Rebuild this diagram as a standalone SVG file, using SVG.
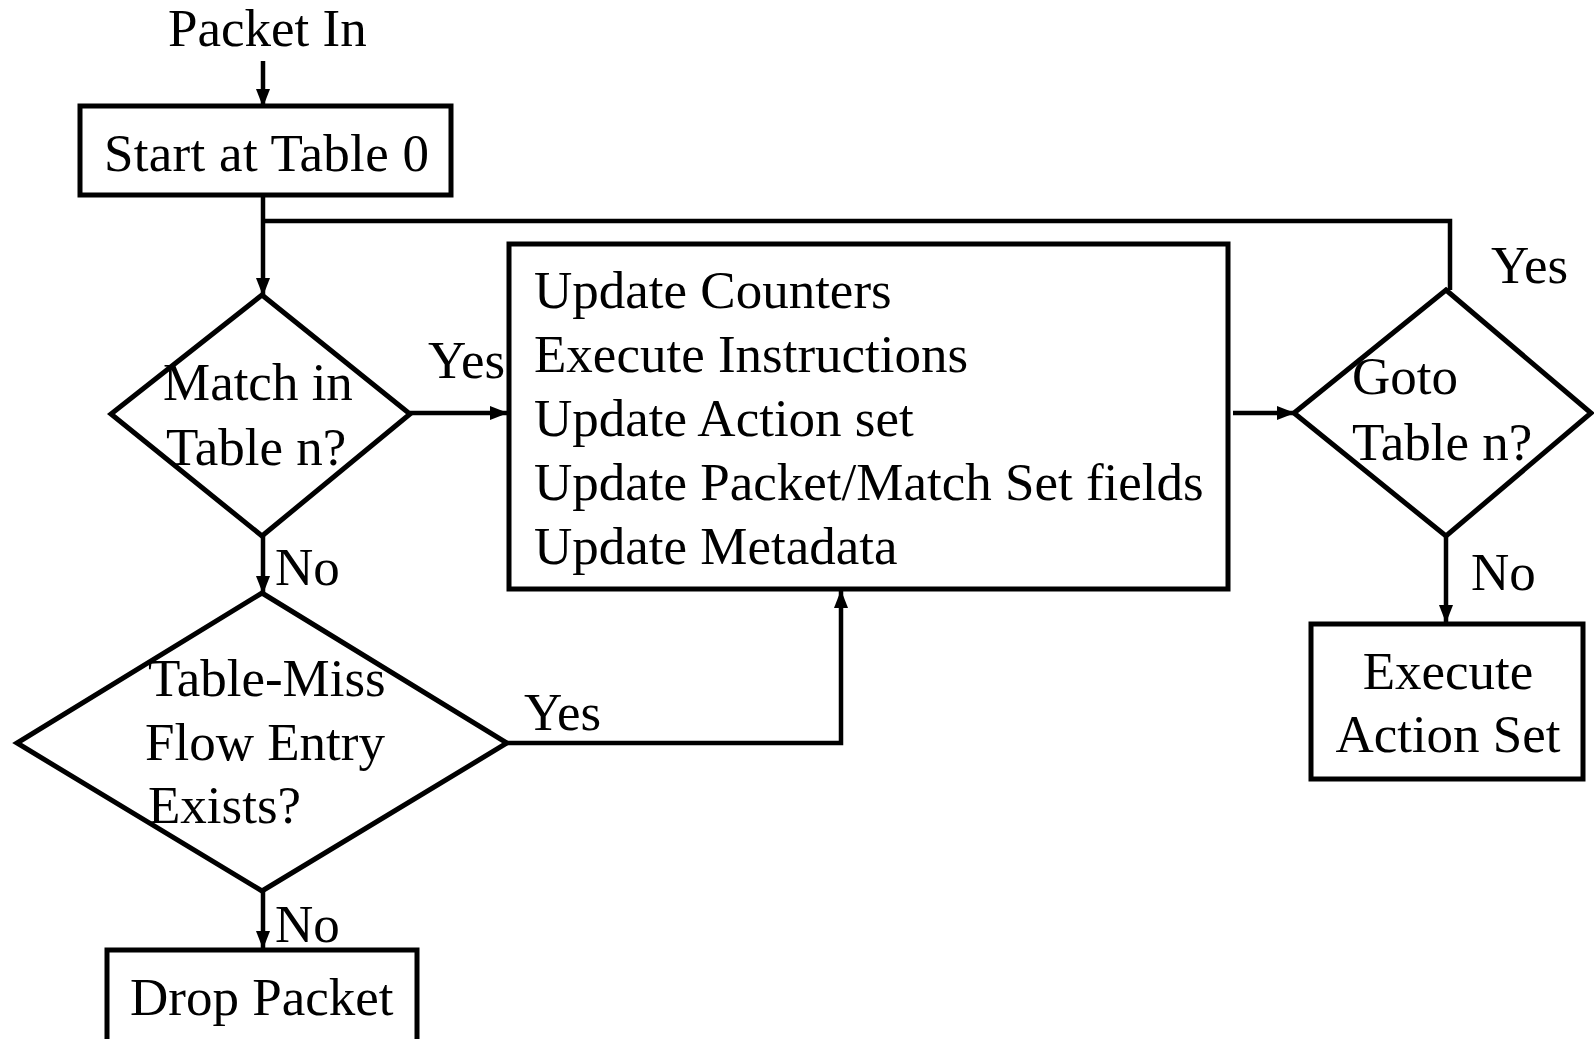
<svg xmlns="http://www.w3.org/2000/svg" width="1594" height="1039" viewBox="0 0 1594 1039">
<defs>
<marker id="ah" markerUnits="userSpaceOnUse" markerWidth="18" markerHeight="16" viewBox="0 0 18 16" refX="17" refY="8" orient="auto">
<path d="M0,1 L18,8 L0,15 Z" fill="#000"/>
</marker>
</defs>
<style>
text{font-family:"Liberation Serif","Times New Roman",serif;font-size:53px;fill:#000}
.box{fill:#fff;stroke:#000;stroke-width:5}
.c{fill:none;stroke:#000;stroke-width:4.5}
.a{marker-end:url(#ah)}
</style>
<rect width="1594" height="1039" fill="#fff"/>
<g id="connectors">
<line class="c a" x1="263" y1="61" x2="263" y2="106"/>
<polyline class="c a" points="263,195 263,295"/>
<polyline class="c" points="263,221 1450,221 1450,290"/>
<line class="c a" x1="410" y1="413" x2="507" y2="413"/>
<line class="c a" x1="1233" y1="413" x2="1294" y2="413"/>
<line class="c a" x1="1446" y1="536" x2="1446" y2="622"/>
<line class="c a" x1="263" y1="536" x2="263" y2="593"/>
<polyline class="c a" points="507,743 841,743 841,591"/>
<line class="c a" x1="263" y1="891" x2="263" y2="948"/>
<text x="428" y="378">Yes</text>
<text x="1491" y="283">Yes</text>
<text x="1471" y="590">No</text>
<text x="275" y="585">No</text>
<text x="524" y="730">Yes</text>
<text x="275" y="942">No</text>
</g>
<g id="packet-in">
<text x="168" y="46">Packet In</text>
</g>
<g id="start">
<rect class="box" x="80" y="106" width="371" height="89"/>
<text x="104" y="171" textLength="325">Start at Table 0</text>
</g>
<g id="match">
<polygon class="box" points="262,295 410,414 262,536 111,414"/>
<text x="163" y="400">Match in</text>
<text x="166" y="465">Table n?</text>
</g>
<g id="update">
<rect class="box" x="509" y="244" width="719" height="345"/>
<text x="534" y="308">Update Counters</text>
<text x="534" y="372">Execute Instructions</text>
<text x="534" y="436">Update Action set</text>
<text x="534" y="500">Update Packet/Match Set fields</text>
<text x="534" y="564">Update Metadata</text>
</g>
<g id="goto">
<polygon class="box" points="1446,290 1591,413 1446,536 1294,413"/>
<text x="1352" y="394">Goto</text>
<text x="1352" y="460">Table n?</text>
</g>
<g id="execute">
<rect class="box" x="1311" y="624" width="272" height="155"/>
<text x="1448" y="689" text-anchor="middle">Execute</text>
<text x="1448" y="752" text-anchor="middle">Action Set</text>
</g>
<g id="tablemiss">
<polygon class="box" points="262,593 507,743 262,891 17,743"/>
<text x="148" y="696">Table-Miss</text>
<text x="145" y="760">Flow Entry</text>
<text x="148" y="823">Exists?</text>
</g>
<g id="drop">
<rect class="box" x="107" y="950" width="310" height="92"/>
<text x="130" y="1015">Drop Packet</text>
</g>
</svg>
